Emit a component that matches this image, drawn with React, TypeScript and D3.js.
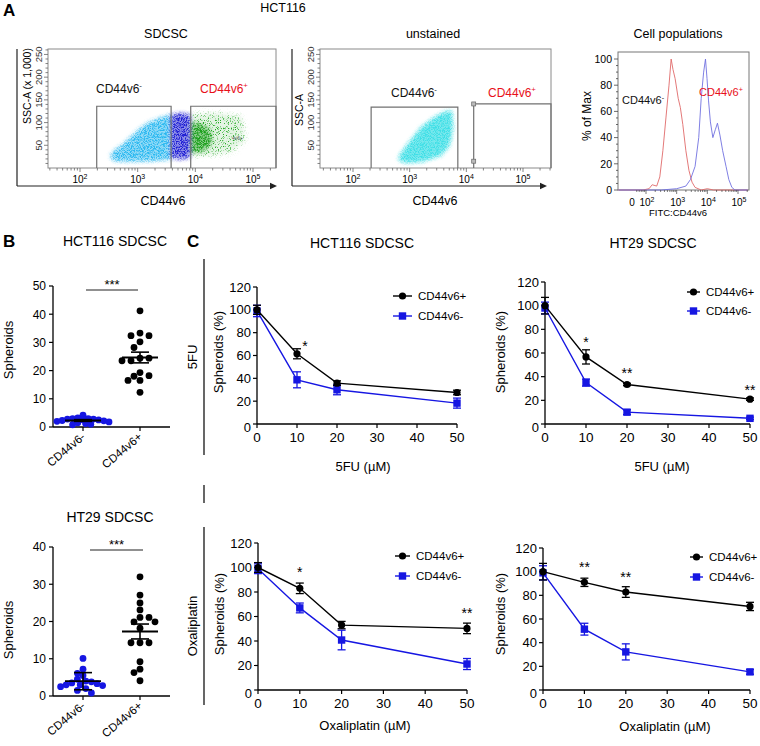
import React from 'react';
import * as d3 from 'd3';

const FONT = '"Liberation Sans", Arial, Helvetica, sans-serif';
const BLUE = '#1616e2';

// ---------------- Panel A data ----------------
const logDecades = [2, 3, 4, 5];
const sscTicks = [50, 100, 150, 200, 250];
const histYTicks = [0, 20, 40, 60, 80, 100];

// clouds in (log10 CD44v6, SSC x1000)
const sdcscNegCloud: [number, number][] = [[2.52, 26], [2.62, 40], [2.75, 52], [2.9, 70], [3.04, 86], [3.2, 100], [3.35, 108], [3.57, 117], [3.57, 20], [3.2, 16], [2.87, 15], [2.6, 16]];
const sdcscMidCloud: [number, number][] = [[3.58, 117], [3.75, 120], [3.91, 116], [3.91, 24], [3.75, 20], [3.58, 23]];
const sdcscPosDense: [number, number][] = [[3.93, 100], [4.1, 96], [4.25, 85], [4.28, 55], [4.15, 38], [3.93, 34]];
const sdcscPosSparse: [number, number][] = [[3.93, 117], [4.4, 120], [4.8, 112], [4.85, 60], [4.6, 35], [4.2, 28], [3.93, 28]];
const unstainedCloud: [number, number][] = [[2.8, 20], [2.88, 38], [3.02, 60], [3.2, 88], [3.4, 108], [3.6, 122], [3.74, 126], [3.76, 90], [3.7, 50], [3.55, 28], [3.2, 14], [2.9, 12]];

// histogram (log10 FITC, % of max)
const histNeg: [number, number][] = [[1.1, 0], [1.9, 0], [2.1, 1], [2.2, 4], [2.35, 3], [2.45, 10], [2.55, 30], [2.65, 55], [2.75, 80], [2.82, 100], [2.88, 92], [2.95, 85], [3.05, 70], [3.12, 63], [3.2, 50], [3.3, 30], [3.4, 15], [3.5, 6], [3.6, 2], [3.8, 0], [4.0, 1], [4.2, 0], [5.32, 0]];
const histPos: [number, number][] = [[1.1, 0], [2.5, 0], [3.0, 1], [3.3, 3], [3.45, 8], [3.6, 18], [3.72, 40], [3.8, 70], [3.88, 90], [3.94, 100], [3.99, 85], [4.04, 68], [4.1, 52], [4.18, 40], [4.26, 46], [4.33, 51], [4.41, 42], [4.5, 30], [4.61, 18], [4.7, 8], [4.8, 2], [4.9, 0], [5.32, 0]];

// ---------------- Panel B data ----------------
const bCategories = ['CD44v6-', 'CD44v6+'];
const hctNegSpheroids = [4.2, 3.2, 3.0, 3.0, 2.8, 2.8, 2.6, 2.5, 2.3, 2.2, 2.0, 1.8, 1.5, 1.2, 1.0, 0.8];
const hctPosSpheroids = [41.2, 33.3, 32.4, 32.4, 30.2, 28.2, 24.4, 23.5, 23.5, 24.4, 18.2, 16.5, 16.5, 18.0, 19.3, 12.3];
const hctErr = [0.3, 1.9];
const htNegSpheroids = [10.1, 7.2, 6.1, 5.5, 4.5, 4.0, 3.8, 3.5, 3.3, 3.0, 3.0, 2.8, 2.5, 2.0, 1.5, 0.8];
const htPosSpheroids = [32, 27.1, 25, 23.1, 21.1, 21.1, 19.9, 19.9, 18.2, 14.3, 14.3, 14.3, 9.2, 7.2, 6.3, 4.1];
const htErr = [2.3, 2.0];
const hctTicks = [0, 10, 20, 30, 40, 50];
const htTicks = [0, 10, 20, 30, 40];

// ---------------- Panel C data ----------------
const doses = [0, 10, 20, 50];
const doseTicks = [0, 10, 20, 30, 40, 50];
const pctTicks = [0, 20, 40, 60, 80, 100, 120];
const hct5fuPos = [100, 61.5, 35.8, 27.6];
const hct5fuPosErr = [4, 4.4, 2, 2];
const hct5fuNeg = [99, 38.7, 30, 18.3];
const hct5fuNegErr = [5, 7, 4.4, 4.4];
const ht5fuPos = [100, 56.7, 33.4, 21];
const ht5fuPosErr = [7, 6, 1, 1];
const ht5fuNeg = [98, 35, 10, 4.8];
const ht5fuNegErr = [5, 3, 2, 1];
const hctOxPos = [100, 83, 53, 50.3];
const hctOxPosErr = [4, 4.3, 3, 4.3];
const hctOxNeg = [99, 67, 40.8, 21.2];
const hctOxNegErr = [4, 4, 8, 4.5];
const htOxPos = [100, 91, 82.8, 70.6];
const htOxPosErr = [7, 3.5, 4.5, 3.5];
const htOxNeg = [99, 51.4, 32.2, 15.3];
const htOxNegErr = [6, 5, 6.8, 2];
const hct5fuStars = [{ d: 12, v: 71, t: '*' }];
const ht5fuStars = [{ d: 10, v: 72, t: '*' }, { d: 20, v: 45.5, t: '**' }, { d: 50, v: 31.5, t: '**' }];
const hctOxStars = [{ d: 10, v: 98.4, t: '*' }, { d: 50, v: 65, t: '**' }];
const htOxStars = [{ d: 10, v: 106.5, t: '**' }, { d: 20, v: 98.3, t: '**' }];

// ---------------- helpers ----------------
function Pow({ x, y, base, exp, size, anchor = 'middle' }: any) {
  return (
    <text x={x} y={y} fontSize={size} textAnchor={anchor}>
      {base}
      <tspan dy={-size * 0.4} fontSize={size * 0.7}>{exp}</tspan>
    </text>
  );
}

function SupLabel({ x, y, text, sup, color, size = 12 }: any) {
  return (
    <text x={x} y={y} fontSize={size} fill={color}>
      {text}
      <tspan dy={-size * 0.4} fontSize={size * 0.65}>{sup}</tspan>
    </text>
  );
}

function logMinorTicks(lo: number, hi: number) {
  const out: { v: number; major: boolean }[] = [];
  for (let dec = 1; dec <= 5; dec++) {
    for (let m = 1; m <= 9; m++) {
      const v = dec + Math.log10(m);
      if (v >= lo && v <= hi) out.push({ v, major: m === 1 });
    }
  }
  return out;
}

function FlowPlot(p: any) {
  const x = d3.scaleLinear().domain([2, 5]).range([p.xAt2, p.xAt5]);
  const y = d3.scaleLinear().domain([0, 262]).range([p.bottom, p.top]);
  const lo = x.invert(p.left);
  const hi = x.invert(p.right);
  const cloudPath = d3.line<[number, number]>().x(d => x(d[0])).y(d => y(d[1])).curve(d3.curveLinearClosed);
  const gate = (g: any) => `M${x(g.x0)},${p.bottom} V${y(g.top)} H${g.x1 == null ? p.right : x(g.x1)} V${p.bottom}`;
  const minor = d3.range(10, 262, 10);
  return (
    <g>
      <text x={p.titleX} y={38} textAnchor="middle" fontSize={12.5}>{p.title}</text>
      <line x1={p.axisX} x2={p.axisX} y1={p.top} y2={186} stroke="#222" strokeWidth={1.2} />
      <line x1={p.axisX} x2={p.arrowX - 5} y1={186} y2={186} stroke="#222" strokeWidth={1.2} />
      <path d={`M${p.arrowX},186 L${p.arrowX - 7},182.8 L${p.arrowX - 7},189.2 Z`} fill="#222" />
      {p.clouds.map((c: any, i: number) => (
        <g key={i}>
          <path d={cloudPath(c.pts) || ''} fill={c.color} opacity={c.base} filter="url(#soft)" />
          <path d={cloudPath(c.pts) || ''} fill={c.color} opacity={c.tex} filter={`url(#${c.filt || 'tex'})`} />
        </g>
      ))}
      <rect x={p.left} y={p.top} width={p.right - p.left} height={p.bottom - p.top} fill="none" stroke="#8a8a8a" strokeWidth={1} />
      {logMinorTicks(lo, hi).map((t, i) => (
        <line key={i} x1={x(t.v)} x2={x(t.v)} y1={p.bottom} y2={p.bottom + (t.major ? 4 : 2.5)} stroke="#666" strokeWidth={0.8} />
      ))}
      {logDecades.map(d => (
        <Pow key={d} x={x(d)} y={183} base="10" exp={String(d)} size={10} />
      ))}
      {minor.map(v => (
        <line key={v} x1={p.left - (v % 50 === 0 ? 4 : 2.5)} x2={p.left} y1={y(v)} y2={y(v)} stroke="#666" strokeWidth={0.8} />
      ))}
      {sscTicks.map(v => (
        <text key={v} transform={`translate(${p.left - 6},${y(v)}) rotate(-90)`} textAnchor="middle" fontSize={9.5} fill="#333">{v}</text>
      ))}
      <text transform={`translate(${p.yLabelX},${p.yLabelY}) rotate(-90)`} textAnchor="middle" fontSize={10.5}>{p.yLabel}</text>
      <text x={p.xLabelX} y={205} textAnchor="middle" fontSize={12.5}>CD44v6</text>
      {p.gates.map((g: any, i: number) => (
        <path key={i} d={gate(g)} fill="none" stroke="#707070" strokeWidth={1.2} />
      ))}
      {p.handles && p.handles.map((h: any, i: number) => (
        <rect key={i} x={x(h[0]) - 2} y={y(h[1]) - 2} width={4} height={4} fill="#bbb" stroke="#666" strokeWidth={0.7} />
      ))}
      <SupLabel x={p.negLabelX} y={p.labelY} text="CD44v6" sup="-" color="#111" />
      <SupLabel x={p.posLabelX} y={p.labelY} text="CD44v6" sup="+" color="#e8101a" />
      {p.tiny && <text x={p.tiny[0]} y={p.tiny[1]} fontSize={5} fill="#555">4v6+</text>}
    </g>
  );
}

function HistPlot() {
  const left = 618, right = 749, top = 52, bottom = 190;
  const x = d3.scaleLinear().domain([2, 5]).range([646, 738]);
  const y = d3.scaleLinear().domain([0, 100]).range([bottom, 59]);
  const line = d3.line<[number, number]>().x(d => x(d[0])).y(d => y(d[1]));
  const lo = x.invert(left + 18);
  const hi = x.invert(right);
  return (
    <g>
      <text x={678} y={38} textAnchor="middle" fontSize={12.5}>Cell populations</text>
      <rect x={left} y={top} width={right - left} height={bottom - top} fill="none" stroke="#777" strokeWidth={1} />
      <path d={line(histNeg) || ''} fill="none" stroke="#e06a6a" strokeWidth={0.9} />
      <path d={line(histPos) || ''} fill="none" stroke="#7070e0" strokeWidth={0.9} />
      {d3.range(0, 101, 5).map(v => (
        <line key={v} x1={left - (v % 20 === 0 ? 4 : 2)} x2={left} y1={y(v)} y2={y(v)} stroke="#444" strokeWidth={0.8} />
      ))}
      {histYTicks.map(v => (
        <text key={v} x={left - 6} y={y(v) + 3.8} textAnchor="end" fontSize={10.5}>{v}</text>
      ))}
      {logMinorTicks(lo, hi).map((t, i) => (
        <line key={i} x1={x(t.v)} x2={x(t.v)} y1={bottom} y2={bottom + (t.major ? 4 : 2)} stroke="#444" strokeWidth={0.7} />
      ))}
      <text x={632} y={206} textAnchor="middle" fontSize={10}>0</text>
      {logDecades.map(d => (
        <Pow key={d} x={x(d) + 1} y={206} base="10" exp={String(d)} size={10} />
      ))}
      <text x={678} y={216} textAnchor="middle" fontSize={9.5}>FITC:CD44v6</text>
      <text transform="translate(591,116) rotate(-90)" textAnchor="middle" fontSize={12}>% of Max</text>
      <SupLabel x={622} y={104} text="CD44v6" sup="-" color="#111" size={11} />
      <SupLabel x={699} y={96} text="CD44v6" sup="+" color="#e8101a" size={11} />
    </g>
  );
}

function beeswarm(values: number[], cx: number, y: (v: number) => number, gap: number, step: number) {
  const placed: { x: number; y: number }[] = [];
  const out: { x: number; y: number }[] = new Array(values.length);
  const order = values.map((_, i) => i).sort((a, b) => values[b] - values[a]);
  for (const i of order) {
    const yy = y(values[i]);
    let chosen = cx;
    for (let k = 0; k < 40; k++) {
      const cands = k === 0 ? [0] : (k % 2 ? [k * step, -k * step] : [-k * step, k * step]);
      let ok = false;
      for (const o of cands) {
        const xx = cx + o;
        if (placed.every(q => Math.hypot(q.x - xx, q.y - yy) >= gap)) {
          chosen = xx; ok = true; break;
        }
      }
      if (ok) break;
    }
    const pt = { x: chosen, y: yy };
    placed.push(pt);
    out[i] = pt;
  }
  return out;
}

function DotPlot(p: any) {
  const x = d3.scalePoint().domain(bCategories).range([83, 140]);
  const y = d3.scaleLinear().domain([0, p.yMax]).range([p.y0, p.y1]);
  const groups = [p.neg, p.pos];
  const colors = [BLUE, '#000'];
  return (
    <g>
      <text x={p.titleX} y={p.titleY} textAnchor="middle" fontSize={14}>{p.title}</text>
      <line x1={53} x2={53} y1={p.y0} y2={p.y1} stroke="#000" strokeWidth={1.3} />
      <line x1={53} x2={170} y1={p.y0} y2={p.y0} stroke="#000" strokeWidth={1.3} />
      {p.ticks.map((v: number) => (
        <g key={v}>
          <line x1={49} x2={53} y1={y(v)} y2={y(v)} stroke="#000" strokeWidth={1.2} />
          <text x={46} y={y(v) + 4.3} textAnchor="end" fontSize={12}>{v}</text>
        </g>
      ))}
      {bCategories.map(c => (
        <g key={c}>
          <line x1={x(c)} x2={x(c)} y1={p.y0} y2={p.y0 + 4} stroke="#000" strokeWidth={1.2} />
          <text transform={`translate(${(x(c) as number) + 3},${p.y0 + 11}) rotate(-40)`} textAnchor="end" fontSize={11.5}>{c}</text>
        </g>
      ))}
      <text transform={`translate(13,${p.yLabelY}) rotate(-90)`} textAnchor="middle" fontSize={13}>Spheroids</text>
      <line x1={p.sig[0]} x2={p.sig[1]} y1={p.sigY} y2={p.sigY} stroke="#222" strokeWidth={1.2} />
      <text x={(p.sig[0] + p.sig[1]) / 2} y={p.sigY - 1} textAnchor="middle" fontSize={13}>***</text>
      {groups.map((g: number[], gi: number) => {
        const cx = x(bCategories[gi]) as number;
        const pts = beeswarm(g, cx, y, p.gaps[gi], p.steps[gi]);
        const m = d3.mean(g) as number;
        const e = p.err[gi];
        return (
          <g key={gi}>
            {pts.map((q, i) => <circle key={i} cx={q.x} cy={q.y} r={3.4} fill={colors[gi]} />)}
            <line x1={cx - 18} x2={cx + 18} y1={y(m)} y2={y(m)} stroke="#000" strokeWidth={1.8} />
            <line x1={cx} x2={cx} y1={y(m - e)} y2={y(m + e)} stroke="#000" strokeWidth={1.6} />
            <line x1={cx - 9} x2={cx + 9} y1={y(m + e)} y2={y(m + e)} stroke="#000" strokeWidth={1.6} />
            <line x1={cx - 9} x2={cx + 9} y1={y(m - e)} y2={y(m - e)} stroke="#000" strokeWidth={1.6} />
          </g>
        );
      })}
    </g>
  );
}

function Marker({ shape, x, y, color }: any) {
  return shape === 'circle'
    ? <circle cx={x} cy={y} r={3.6} fill={color} />
    : <rect x={x - 3.7} y={y - 3.7} width={7.4} height={7.4} fill={color} />;
}

function LineChart({ c }: any) {
  const x = d3.scaleLinear().domain([0, 50]).range([c.x0, c.x1]);
  const y = d3.scaleLinear().domain([0, 120]).range([c.y0, c.y1]);
  const line = d3.line<number>().x((_, i) => x(doses[i])).y(v => y(v));
  const series = [
    { vals: c.neg, err: c.negErr, color: BLUE, shape: 'square' },
    { vals: c.pos, err: c.posErr, color: '#000', shape: 'circle' },
  ];
  return (
    <g>
      {c.title && <text x={c.titleX} y={248} textAnchor="middle" fontSize={14}>{c.title}</text>}
      <line x1={c.x0} x2={c.x0} y1={c.y0} y2={c.y1} stroke="#000" strokeWidth={1.3} />
      <line x1={c.x0} x2={c.x1} y1={c.y0} y2={c.y0} stroke="#000" strokeWidth={1.3} />
      {pctTicks.map(v => (
        <g key={v}>
          <line x1={c.x0 - 4} x2={c.x0} y1={y(v)} y2={y(v)} stroke="#000" strokeWidth={1.2} />
          <text x={c.x0 - 6} y={y(v) + (v === 0 ? 8 : 4.5)} textAnchor="end" fontSize={13}>{v}</text>
        </g>
      ))}
      {doseTicks.map(v => (
        <g key={v}>
          <line x1={x(v)} x2={x(v)} y1={c.y0} y2={c.y0 + 4} stroke="#000" strokeWidth={1.2} />
          <text x={x(v)} y={c.y0 + 18} textAnchor="middle" fontSize={13.5}>{v}</text>
        </g>
      ))}
      <text x={c.xLabelX} y={c.xLabelY} textAnchor="middle" fontSize={13}>{c.xLabel}</text>
      <text transform={`translate(${c.yLabelX},${c.yLabelY}) rotate(-90)`} textAnchor="middle" fontSize={13}>Spheroids (%)</text>
      {series.map((s, si) => (
        <g key={si}>
          <path d={line(s.vals) || ''} fill="none" stroke={s.color} strokeWidth={1.4} />
          {s.vals.map((v: number, i: number) => (
            <g key={i}>
              <line x1={x(doses[i])} x2={x(doses[i])} y1={y(v - s.err[i])} y2={y(v + s.err[i])} stroke={s.color} strokeWidth={1.3} />
              <line x1={x(doses[i]) - 4} x2={x(doses[i]) + 4} y1={y(v + s.err[i])} y2={y(v + s.err[i])} stroke={s.color} strokeWidth={1.3} />
              <line x1={x(doses[i]) - 4} x2={x(doses[i]) + 4} y1={y(v - s.err[i])} y2={y(v - s.err[i])} stroke={s.color} strokeWidth={1.3} />
              <Marker shape={s.shape} x={x(doses[i])} y={y(v)} color={s.color} />
            </g>
          ))}
        </g>
      ))}
      {c.stars.map((s: any, i: number) => (
        <text key={i} x={x(s.d)} y={y(s.v) + 8} textAnchor="middle" fontSize={14}>{s.t}</text>
      ))}
      {[{ t: 'CD44v6+', color: '#000', shape: 'circle', yy: c.legY[0] }, { t: 'CD44v6-', color: BLUE, shape: 'square', yy: c.legY[1] }].map((l, i) => (
        <g key={i}>
          <line x1={c.legX[0]} x2={c.legX[1]} y1={l.yy} y2={l.yy} stroke={l.color} strokeWidth={1.4} />
          <Marker shape={l.shape} x={(c.legX[0] + c.legX[1]) / 2} y={l.yy} color={l.color} />
          <text x={c.legX[1] + 6} y={l.yy + 4} fontSize={11.5}>{l.t}</text>
        </g>
      ))}
    </g>
  );
}

const cCharts = [
  { title: 'HCT116 SDCSC', titleX: 362, x0: 257, x1: 457, y0: 424, y1: 287, pos: hct5fuPos, posErr: hct5fuPosErr, neg: hct5fuNeg, negErr: hct5fuNegErr, stars: hct5fuStars, xLabel: '5FU (µM)', xLabelX: 363, xLabelY: 471, yLabelX: 223, yLabelY: 352, legX: [393, 412], legY: [296, 316] },
  { title: 'HT29 SDCSC', titleX: 653, x0: 545, x1: 750, y0: 424, y1: 282, pos: ht5fuPos, posErr: ht5fuPosErr, neg: ht5fuNeg, negErr: ht5fuNegErr, stars: ht5fuStars, xLabel: '5FU (µM)', xLabelX: 662, xLabelY: 471, yLabelX: 505, yLabelY: 352, legX: [687, 700], legY: [292, 311] },
  { title: '', titleX: 0, x0: 258, x1: 467, y0: 690, y1: 543, pos: hctOxPos, posErr: hctOxPosErr, neg: hctOxNeg, negErr: hctOxNegErr, stars: hctOxStars, xLabel: 'Oxaliplatin (µM)', xLabelX: 365, xLabelY: 730, yLabelX: 224, yLabelY: 614, legX: [395, 410], legY: [556, 576] },
  { title: '', titleX: 0, x0: 543, x1: 750, y0: 690, y1: 548, pos: htOxPos, posErr: htOxPosErr, neg: htOxNeg, negErr: htOxNegErr, stars: htOxStars, xLabel: 'Oxaliplatin (µM)', xLabelX: 665, xLabelY: 731, yLabelX: 505, yLabelY: 614, legX: [690, 703], legY: [557, 577] },
];

export default function App() {
  return (
    <svg width={760} height={746} style={{ position: 'absolute', left: 0, top: 0, background: '#fff' }} fontFamily={FONT}>
      <defs>
        <filter id="soft" x="-30%" y="-30%" width="160%" height="160%">
          <feGaussianBlur stdDeviation={2.2} />
        </filter>
        <filter id="tex" x="-30%" y="-30%" width="160%" height="160%" colorInterpolationFilters="sRGB">
          <feGaussianBlur in="SourceGraphic" stdDeviation={2} result="soft" />
          <feTurbulence type="fractalNoise" baseFrequency={1.3} numOctaves={1} seed={7} result="noise" />
          <feColorMatrix in="noise" type="matrix" values="0 0 0 0 0  0 0 0 0 0  0 0 0 0 0  5 0 0 0 -2.1" result="mask" />
          <feComposite in="soft" in2="mask" operator="in" />
        </filter>
        <filter id="sparse" x="-30%" y="-30%" width="160%" height="160%" colorInterpolationFilters="sRGB">
          <feGaussianBlur in="SourceGraphic" stdDeviation={3} result="soft" />
          <feTurbulence type="fractalNoise" baseFrequency={1.4} numOctaves={1} seed={3} result="noise" />
          <feColorMatrix in="noise" type="matrix" values="0 0 0 0 0  0 0 0 0 0  0 0 0 0 0  6 0 0 0 -3.3" result="mask" />
          <feComposite in="soft" in2="mask" operator="in" />
        </filter>
      </defs>
      <rect width={760} height={746} fill="#fff" />
      {/* Panel A */}
      <text x={3} y={16} fontSize={17} fontWeight="bold">A</text>
      <text x={283} y={12} textAnchor="middle" fontSize={12.5}>HCT116</text>
      <FlowPlot
        title="SDCSC" titleX={166} left={48} right={276} top={49} bottom={168} xAt2={80} xAt5={253}
        axisX={17} arrowX={277} yLabel="SSC-A (x 1,000)" yLabelX={31} yLabelY={86} xLabelX={163}
        gates={[{ x0: 2.29, x1: 3.58, top: 136 }, { x0: 3.92, x1: null, top: 136 }]}
        clouds={[
          { pts: sdcscPosSparse, color: '#22aa22', base: 0.12, tex: 1, filt: 'sparse' },
          { pts: sdcscPosDense, color: '#1a9e1a', base: 0.45, tex: 1 },
          { pts: sdcscNegCloud, color: '#2ab8f0', base: 0.5, tex: 1 },
          { pts: sdcscMidCloud, color: '#1c1cd2', base: 0.5, tex: 1 },
        ]}
        negLabelX={96} posLabelX={200} labelY={93} tiny={[232, 140]}
      />
      <FlowPlot
        title="unstained" titleX={433} left={320} right={551} top={49} bottom={168} xAt2={353} xAt5={523}
        axisX={292} arrowX={547} yLabel="SSC-A" yLabelX={303} yLabelY={110} xLabelX={435}
        gates={[{ x0: 2.32, x1: 3.85, top: 134 }, { x0: 4.13, x1: null, top: 141 }]}
        handles={[[4.13, 141], [4.13, 15]]}
        clouds={[
          { pts: unstainedCloud, color: '#3fdfe6', base: 0.7, tex: 1 },
        ]}
        negLabelX={391} posLabelX={488} labelY={97}
      />
      <HistPlot />

      {/* Panel B */}
      <text x={3} y={247} fontSize={17} fontWeight="bold">B</text>
      <DotPlot title="HCT116 SDCSC" titleX={115} titleY={246} yMax={50} y0={427} y1={286} ticks={hctTicks}
        neg={hctNegSpheroids} pos={hctPosSpheroids} err={hctErr} sig={[86, 138]} sigY={290} yLabelY={350}
        gaps={[4.4, 6.8]} steps={[2.6, 3]} />
      <DotPlot title="HT29 SDCSC" titleX={110} titleY={522} yMax={40} y0={696} y1={547} ticks={htTicks}
        neg={htNegSpheroids} pos={htPosSpheroids} err={htErr} sig={[90, 143]} sigY={550} yLabelY={630}
        gaps={[5.6, 6.8]} steps={[2.8, 3]} />

      {/* Panel C */}
      <text x={187} y={247} fontSize={17} fontWeight="bold">C</text>
      <line x1={204} x2={204} y1={259} y2={455} stroke="#000" strokeWidth={1.2} />
      <line x1={204} x2={204} y1={485} y2={503} stroke="#000" strokeWidth={1.2} />
      <line x1={204} x2={204} y1={527} y2={705} stroke="#000" strokeWidth={1.2} />
      <text transform="translate(197,357) rotate(-90)" textAnchor="middle" fontSize={13}>5FU</text>
      <text transform="translate(197,626) rotate(-90)" textAnchor="middle" fontSize={13}>Oxaliplatin</text>
      {cCharts.map((c, i) => <LineChart key={i} c={c} />)}
    </svg>
  );
}
